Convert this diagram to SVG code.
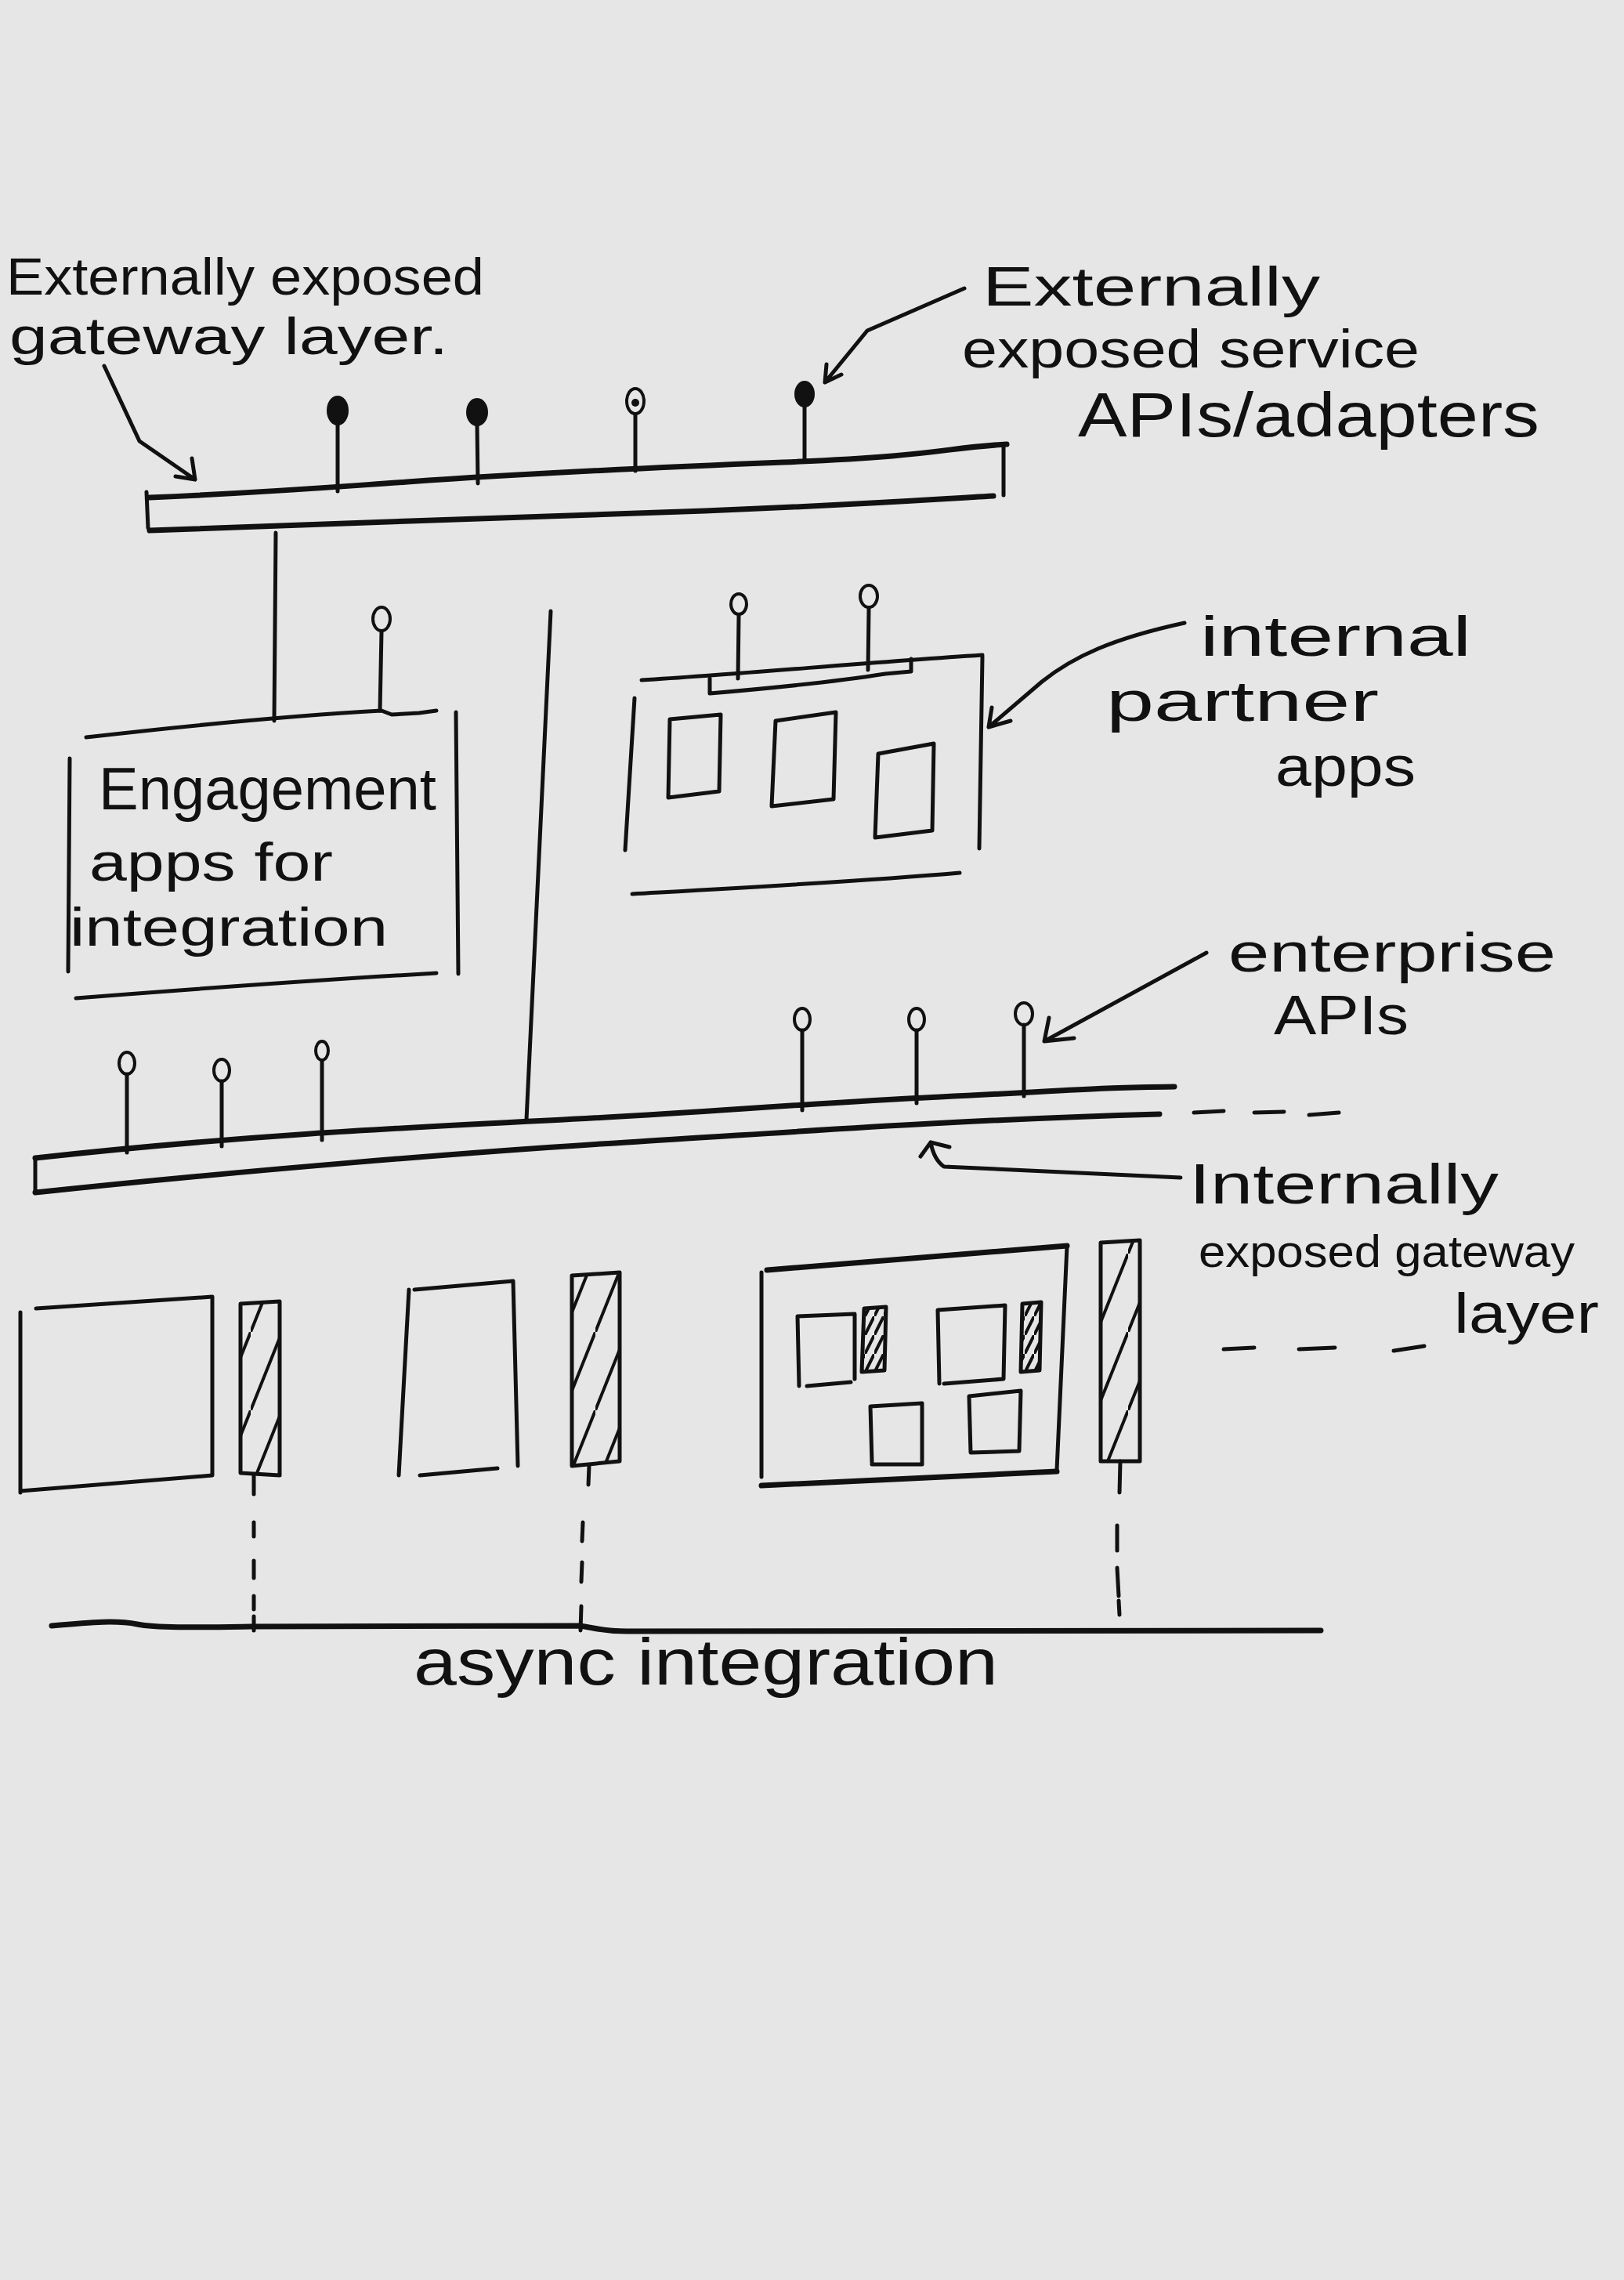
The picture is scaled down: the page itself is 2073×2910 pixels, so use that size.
<svg xmlns="http://www.w3.org/2000/svg" width="2073" height="2910" viewBox="0 0 2073 2910">
<style>
.ln{fill:none;stroke:#111;stroke-width:5;stroke-linecap:round;stroke-linejoin:round}
.tk{stroke-width:7}
.t{font-family:"Liberation Sans",Arial,sans-serif;fill:#111}
.pin{fill:none;stroke:#111;stroke-width:4}
.pinf{fill:#111;stroke:#111;stroke-width:4}
.hatch{fill:url(#hatch);stroke:#111;stroke-width:5;stroke-linejoin:round}
.hatchd{fill:url(#hatchd);stroke:#111;stroke-width:5;stroke-linejoin:round}
</style>
<defs>
<pattern id="hatch" patternUnits="userSpaceOnUse" width="40" height="100">
<path d="M0,100 L40,0" stroke="#111" stroke-width="4" fill="none"/>
</pattern>
<pattern id="hatchd" patternUnits="userSpaceOnUse" width="12" height="24">
<path d="M0,24 L12,0" stroke="#111" stroke-width="4" fill="none"/>
</pattern>
</defs>
<rect width="2073" height="2910" fill="#e6e6e6"/>

<g id="ext-gateway">
<path class="ln tk" d="M191,635 C350,628 420,622 520,615 S800,598 1000,590 S1200,572 1285,567"/>
<path class="ln tk" d="M191,677 C400,668 700,660 900,652 S1150,640 1268,633"/>
<path class="ln" d="M187,628 L189,674"/>
<path class="ln" d="M1281,569 L1281,632"/>
<path class="ln" d="M431,541 L431,627 M609,543 L610,617 M811,529 L811,601 M1027,520 L1027,585"/>
<ellipse class="pinf" cx="431" cy="524" rx="12" ry="17"/>
<ellipse class="pinf" cx="609" cy="526" rx="12" ry="16"/>
<ellipse class="pin" cx="811" cy="512" rx="11" ry="16"/>
<circle cx="811" cy="514" r="5" fill="#111"/>
<ellipse class="pinf" cx="1027" cy="503" rx="11" ry="15"/>
</g>

<g id="engagement-apps">
<path class="ln" d="M110,941 C250,925 380,913 487,907 L500,912 L535,910 L557,907"/>
<path class="ln" d="M89,968 L87,1240"/>
<path class="ln" d="M582,909 L585,1243"/>
<path class="ln" d="M97,1274 C250,1262 420,1250 557,1242"/>
<ellipse class="pin" cx="487" cy="790" rx="11" ry="15"/>
<path class="ln" d="M487,806 L485,907"/>
<text class="t" x="126" y="1033" font-size="76" textLength="431" lengthAdjust="spacingAndGlyphs">Engagement</text>
<text class="t" x="114" y="1124" font-size="68" textLength="311" lengthAdjust="spacingAndGlyphs">apps for</text>
<text class="t" x="89" y="1207" font-size="68" textLength="406" lengthAdjust="spacingAndGlyphs">integration</text>
</g>

<g id="partner-apps">
<path class="ln" d="M819,868 C950,860 1100,846 1254,836"/>
<path class="ln" d="M906,866 L906,885 C1000,877 1080,868 1130,860 L1163,857 L1163,841"/>
<path class="ln" d="M1254,838 L1250,1083"/>
<path class="ln" d="M810,891 L798,1085"/>
<path class="ln" d="M807,1141 C950,1133 1100,1125 1225,1114"/>
<path class="ln" d="M853,1018 L855,918 L920,912 L918,1010 Z"/>
<path class="ln" d="M985,1029 L990,920 L1067,909 L1064,1020 Z"/>
<path class="ln" d="M1117,1069 L1121,962 L1192,949 L1190,1060 Z"/>
<ellipse class="pin" cx="943" cy="771" rx="10" ry="13"/>
<path class="ln" d="M943,786 L942,866"/>
<ellipse class="pin" cx="1109" cy="761" rx="11" ry="14"/>
<path class="ln" d="M1109,777 L1108,855"/>
</g>

<g id="int-gateway">
<path class="ln tk" d="M45,1478 C300,1450 500,1440 700,1430 S1000,1410 1200,1400 S1400,1388 1499,1387"/>
<path class="ln tk" d="M45,1522 C300,1495 600,1470 800,1458 S1200,1430 1480,1422"/>
<path class="ln" d="M45,1478 L45,1522"/>
<path class="ln" d="M162,1371 L162,1471 M283,1380 L283,1463 M411,1354 L411,1455 M1024,1315 L1024,1417 M1170,1315 L1170,1408 M1307,1308 L1307,1399"/>
<ellipse class="pin" cx="162" cy="1357" rx="10" ry="14"/>
<ellipse class="pin" cx="283" cy="1366" rx="10" ry="14"/>
<ellipse class="pin" cx="411" cy="1341" rx="8" ry="12"/>
<ellipse class="pin" cx="1024" cy="1301" rx="10" ry="14"/>
<ellipse class="pin" cx="1170" cy="1301" rx="10" ry="14"/>
<ellipse class="pin" cx="1307" cy="1294" rx="11" ry="14"/>
<path class="ln" d="M1524,1420 L1562,1418 M1601,1420 L1639,1419 M1671,1423 L1709,1420"/>
</g>

<g id="backend-1">
<path class="ln" d="M26,1675 L26,1905 M26,1903 L271,1883 L271,1655 L46,1670"/>
<path class="hatch" d="M307,1664 L357,1661 L357,1883 L307,1880 Z"/>
</g>

<g id="backend-2">
<path class="ln" d="M522,1646 L509,1883 M536,1883 L635,1874 M529,1646 L655,1635 L661,1871"/>
<path class="hatch" d="M730,1628 L791,1624 L791,1865 L730,1871 Z"/>
</g>

<g id="backend-3">
<path class="ln tk" d="M979,1621 L1362,1590"/>
<path class="ln" d="M972,1624 L972,1885 M1362,1590 L1349,1876"/>
<path class="ln tk" d="M972,1896 L1349,1878"/>
<path class="ln" d="M1020,1769 L1018,1680 L1091,1677 L1091,1760 M1030,1769 L1086,1764"/>
<path class="hatchd" d="M1103,1670 L1131,1668 L1129,1749 L1100,1751 Z"/>
<path class="ln" d="M1199,1766 L1197,1672 L1283,1666 L1281,1760 L1205,1766"/>
<path class="hatchd" d="M1305,1664 L1329,1662 L1327,1749 L1303,1751 Z"/>
<path class="ln" d="M1113,1867 L1111,1795 L1177,1791 L1177,1869 L1113,1869"/>
<path class="ln" d="M1239,1854 L1237,1782 L1303,1775 L1301,1852 L1239,1854"/>
<path class="hatch" d="M1405,1586 L1455,1583 L1455,1865 L1405,1865 Z"/>
</g>

<g id="async-bus">
<path class="ln tk" d="M66,2075 C120,2070 150,2068 175,2073 S250,2077 320,2076 L740,2075 C760,2078 770,2082 800,2082 L1686,2081"/>
<text class="t" x="528" y="2150" font-size="84" textLength="746" lengthAdjust="spacingAndGlyphs">async integration</text>
</g>

<g id="labels">
<text class="t" x="8" y="376" font-size="66" textLength="610" lengthAdjust="spacingAndGlyphs">Externally exposed</text>
<text class="t" x="12" y="452" font-size="66" textLength="560" lengthAdjust="spacingAndGlyphs">gateway layer.</text>
<text class="t" x="1254" y="390" font-size="70" textLength="431" lengthAdjust="spacingAndGlyphs">Externally</text>
<text class="t" x="1228" y="469" font-size="68" textLength="584" lengthAdjust="spacingAndGlyphs">exposed service</text>
<text class="t" x="1376" y="557" font-size="80" textLength="589" lengthAdjust="spacingAndGlyphs">APIs/adapters</text>
<text class="t" x="1532" y="837" font-size="72" textLength="346" lengthAdjust="spacingAndGlyphs">internal</text>
<text class="t" x="1412" y="920" font-size="72" textLength="348" lengthAdjust="spacingAndGlyphs">partner</text>
<text class="t" x="1628" y="1003" font-size="72" textLength="179" lengthAdjust="spacingAndGlyphs">apps</text>
<text class="t" x="1568" y="1240" font-size="70" textLength="418" lengthAdjust="spacingAndGlyphs">enterprise</text>
<text class="t" x="1626" y="1320" font-size="70" textLength="172" lengthAdjust="spacingAndGlyphs">APIs</text>
<text class="t" x="1518" y="1536" font-size="72" textLength="395" lengthAdjust="spacingAndGlyphs">Internally</text>
<text class="t" x="1530" y="1617" font-size="58" textLength="480" lengthAdjust="spacingAndGlyphs">exposed gateway</text>
<text class="t" x="1856" y="1701" font-size="72" textLength="185" lengthAdjust="spacingAndGlyphs">layer</text>
<path class="ln" d="M1562,1722 L1601,1720 M1658,1722 L1704,1720 M1779,1724 L1818,1718"/>
</g>

<g id="connectors">
<path class="ln" d="M352,680 L350,920"/>
<path class="ln" d="M703,780 L672,1429"/>
<path class="ln" d="M133,467 L178,563 L249,612 M249,612 L224,608 M249,612 L245,585"/>
<path class="ln" d="M1231,368 L1107,422 L1053,488 M1053,488 L1055,465 M1053,488 L1074,478"/>
<path class="ln" d="M1512,795 C1420,815 1370,838 1330,870 L1262,928 M1262,928 L1266,903 M1262,928 L1290,920"/>
<path class="ln" d="M1540,1216 L1333,1329 M1333,1329 L1371,1325 M1333,1329 L1339,1299"/>
<path class="ln" d="M1507,1503 L1205,1489 Q1192,1480 1188,1458 M1188,1458 L1175,1476 M1188,1458 L1212,1464"/>
<path class="ln" d="M324,1883 L324,1907 M324,1943 L324,1961 M324,1992 L324,2014 M324,2037 L324,2054 M324,2063 L324,2081"/>
<path class="ln" d="M752,1871 L751,1895 M744,1943 L743,1967 M743,1994 L742,2019 M742,2050 L741,2081"/>
<path class="ln" d="M1430,1865 L1429,1905 M1426,1947 L1426,1979 M1426,2001 L1428,2037 M1428,2043 L1429,2061"/>
</g>
</svg>
